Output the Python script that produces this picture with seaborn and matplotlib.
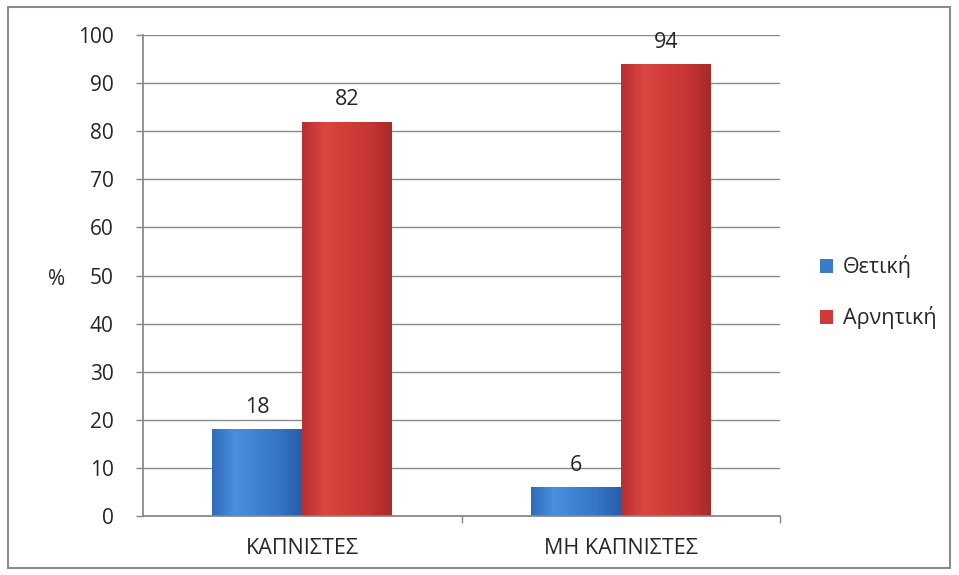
import matplotlib
matplotlib.use("Agg")
import matplotlib.pyplot as plt
import seaborn as sns
import pandas as pd
import numpy as np
from matplotlib.colors import LinearSegmentedColormap
from matplotlib.patches import Rectangle

categories = ["ΚΑΠΝΙΣΤΕΣ", "ΜΗ ΚΑΠΝΙΣΤΕΣ"]
series_names = ["Θετική", "Αρνητική"]
thetiki = [18, 6]
arnitiki = [82, 94]
yticks = [0, 10, 20, 30, 40, 50, 60, 70, 80, 90, 100]
palette = {"Θετική": "#3a7bcc", "Αρνητική": "#cf3a36"}
grad = {"Θετική": ["#2f6cbc", "#4a8fde", "#3f82d4", "#3574c4", "#2a5ea8"],
        "Αρνητική": ["#b83030", "#da4642", "#d23c38", "#c63634", "#a82a2a"]}

df = pd.DataFrame({
    "cat": categories * 2,
    "series": [series_names[0]] * 2 + [series_names[1]] * 2,
    "val": thetiki + arnitiki,
})

sns.set_theme(style="white")
plt.rcParams['font.family'] = ['Open Sans', 'DejaVu Sans']

fig = plt.figure(figsize=(9.59, 5.75), dpi=100)
ax = fig.add_axes([143/959, 1-516/575, (780-143)/959, (516-35)/575])

sns.barplot(data=df, x="cat", y="val", hue="series", palette=palette,
            width=0.565, ax=ax, legend=True, saturation=1, linewidth=0)

ax.set_ylim(0, 100)
ax.set_xlim(-0.5, 1.5)
ax.set_yticks(yticks)
ax.set_yticklabels([str(t) for t in yticks], fontsize=15, color="#262626")
ax.tick_params(axis="y", length=5, width=1, color="#868686", direction="out", pad=16, left=True)
ax.set_xticks([0, 1])
ax.set_xticklabels(categories, fontsize=15.5, color="#262626")
ax.tick_params(axis="x", length=0, pad=16)
ax.set_xticks([0.5, 1.5], minor=True)
ax.tick_params(axis="x", which="minor", length=5, width=1, color="#868686", bottom=True)
ax.set_xlabel("")
ax.set_ylabel("%", rotation=0, fontsize=15, color="#262626", labelpad=0)
ax.yaxis.set_label_coords(-0.135, 0.47)

ax.grid(axis="y", color="#8a8a8a", linewidth=1)
ax.set_axisbelow(True)
for s in ["top", "right"]:
    ax.spines[s].set_visible(False)
ax.spines["left"].set_color("#868686")
ax.spines["bottom"].set_color("#868686")

# gradient shading on bars
bars = [p for p in ax.patches if p.get_height() > 0]
for p in bars:
    fc = p.get_facecolor()
    name = "Θετική" if fc[2] > fc[0] else "Αρνητική"
    cmap = LinearSegmentedColormap.from_list("g", grad[name])
    x0, y0 = p.get_x(), p.get_y()
    w, h = p.get_width(), p.get_height()
    img = np.linspace(0, 1, 64).reshape(1, -1)
    im = ax.imshow(img, cmap=cmap, aspect="auto", extent=[x0, x0 + w, y0, y0 + h],
                   zorder=p.get_zorder() + 0.1, interpolation="bicubic")
    im.set_clip_path(p)

# value labels
for cont, name in zip(ax.containers, series_names):
    vals = thetiki if name == "Θετική" else arnitiki
    ax.bar_label(cont, labels=[str(v) for v in vals],
                 padding=8, fontsize=15.5, color="#262626")

ax.set_xlim(-0.5, 1.5)
ax.set_ylim(0, 100)

leg = ax.legend(loc="center left", bbox_to_anchor=(1.033, 0.465), frameon=False,
                fontsize=15.5, handlelength=0.6, handleheight=0.6, handletextpad=0.45,
                labelspacing=1.3)
for t in leg.get_texts():
    t.set_color("#262626")

fig.patches.append(Rectangle((8/959, 7/575), 942/959, 561/575, transform=fig.transFigure,
                             fill=False, edgecolor="#8c8c8c", linewidth=1.5))

fig.savefig("out.png", dpi=100)
